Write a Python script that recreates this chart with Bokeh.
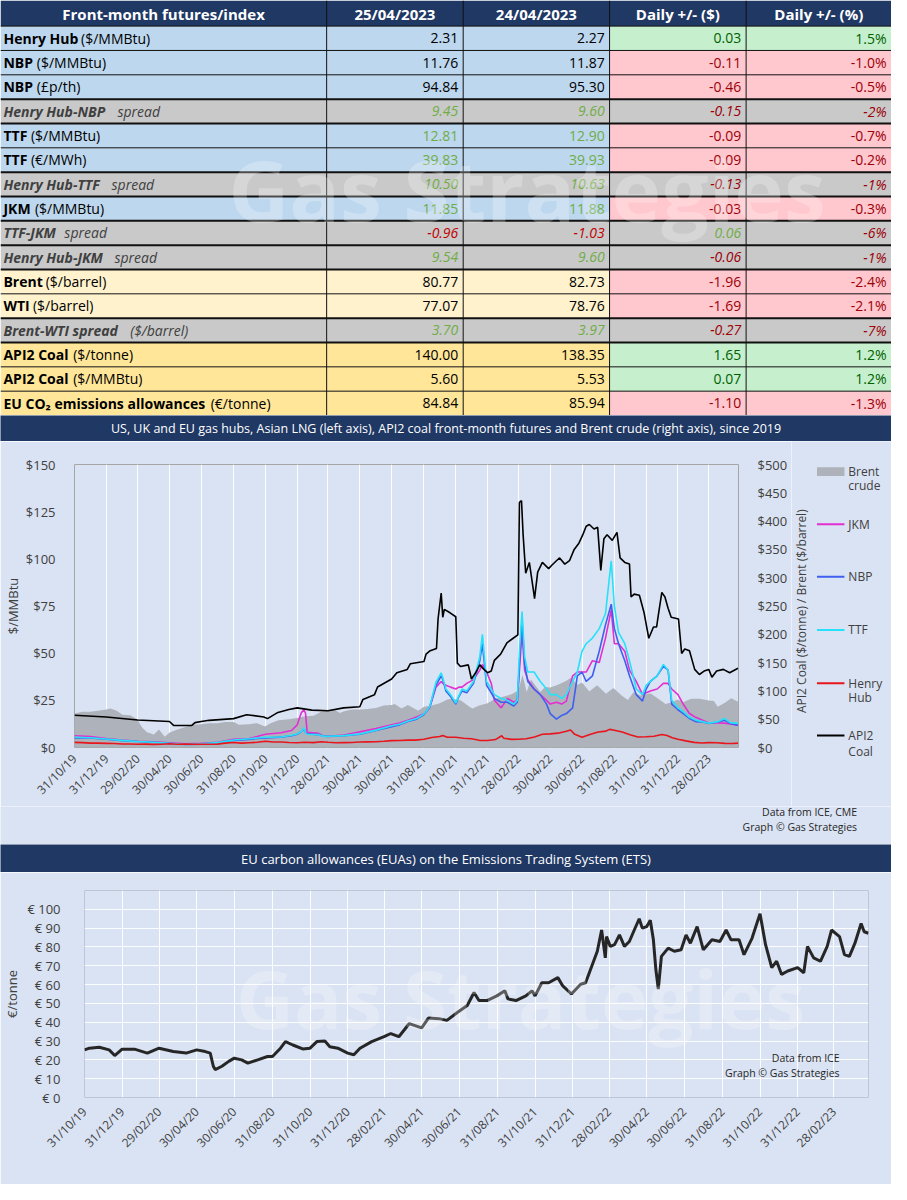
import math
import pandas as pd
from bokeh.plotting import figure
from bokeh.layouts import column, row
from bokeh.models import (ColumnDataSource, Range1d, LinearAxis, FixedTicker,
                          DatetimeTickFormatter, Label)
from bokeh.core.properties import value
from bokeh.embed import file_html
from bokeh.resources import INLINE

# ------------------------------------------------------------------ table data
headers = ["Front-month futures/index", "25/04/2023", "24/04/2023", "Daily +/- ($)", "Daily +/- (%)"]
row_bold = ["Henry Hub", "NBP", "NBP", "Henry Hub-NBP", "TTF", "TTF", "Henry Hub-TTF", "JKM",
            "TTF-JKM", "Henry Hub-JKM", "Brent", "WTI", "Brent-WTI spread", "API2 Coal",
            "API2 Coal", "EU CO\u2082 emissions allowances"]
row_rest = ["($/MMBtu)", "($/MMBtu)", "(£p/th)", "spread", "($/MMBtu)", "(€/MWh)", "spread",
            "($/MMBtu)", "spread", "spread", "($/barrel)", "($/barrel)", "($/barrel)",
            "($/tonne)", "($/MMBtu)", "(€/tonne)"]
row_group = ["US gas", "UK gas", "UK gas", "spread", "EU gas", "EU gas", "spread", "Asian LNG",
             "spread", "spread", "oil", "oil", "spread", "coal", "coal", "carbon"]
price_2504 = [2.31, 11.76, 94.84, 9.45, 12.81, 39.83, 10.50, 11.85, -0.96, 9.54, 80.77, 77.07, 3.70, 140.00, 5.60, 84.84]
price_2404 = [2.27, 11.87, 95.30, 9.60, 12.90, 39.93, 10.63, 11.88, -1.03, 9.60, 82.73, 78.76, 3.97, 138.35, 5.53, 85.94]
daily_abs = [0.03, -0.11, -0.46, -0.15, -0.09, -0.09, -0.13, -0.03, 0.06, -0.06, -1.96, -1.69, -0.27, 1.65, 0.07, -1.10]
daily_pct = [1.5, -1.0, -0.5, -2, -0.7, -0.2, -1, -0.3, -6, -1, -2.4, -2.1, -7, 1.2, 1.2, -1.3]

# ------------------------------------------------------------------ chart 1 data
tick_labels = ["31/10/19", "31/12/19", "29/02/20", "30/04/20", "30/06/20", "31/08/20", "31/10/20",
               "31/12/20", "28/02/21", "30/04/21", "30/06/21", "31/08/21", "31/10/21", "31/12/21",
               "28/02/22", "30/04/22", "30/06/22", "31/08/22", "31/10/22", "31/12/22", "28/02/23"]

gas_dates = ["2019-10-31", "2019-11-30", "2019-12-31", "2020-01-31", "2020-02-29", "2020-03-31", "2020-04-30", "2020-05-31", "2020-06-30", "2020-07-31",
             "2020-08-31", "2020-09-30", "2020-10-15", "2020-10-31", "2020-11-30", "2020-12-20", "2020-12-31", "2021-01-08", "2021-01-13", "2021-01-16",
             "2021-01-19", "2021-02-10", "2021-02-20", "2021-02-28", "2021-03-31", "2021-04-30", "2021-05-31", "2021-06-30", "2021-07-15", "2021-07-31",
             "2021-08-17", "2021-08-31", "2021-09-11", "2021-09-23", "2021-10-03", "2021-10-06", "2021-10-12", "2021-10-21", "2021-10-31", "2021-11-06",
             "2021-11-12", "2021-11-21", "2021-12-04", "2021-12-16", "2021-12-21", "2021-12-29", "2022-01-07", "2022-01-13", "2022-01-26", "2022-02-07",
             "2022-02-19", "2022-02-26", "2022-03-02", "2022-03-07", "2022-03-12", "2022-03-18", "2022-03-30", "2022-04-11", "2022-04-23", "2022-04-30",
             "2022-05-12", "2022-05-22", "2022-05-31", "2022-06-12", "2022-06-21", "2022-06-30", "2022-07-08", "2022-07-20", "2022-08-02", "2022-08-14",
             "2022-08-25", "2022-08-31", "2022-09-08", "2022-09-20", "2022-09-29", "2022-10-12", "2022-10-24", "2022-10-31", "2022-11-08", "2022-11-21",
             "2022-12-03", "2022-12-12", "2022-12-19", "2022-12-31", "2023-01-10", "2023-01-22", "2023-02-03", "2023-02-16", "2023-02-28", "2023-03-18",
             "2023-03-30", "2023-04-10", "2023-04-25"]
jkm = [6.2, 5.8, 4.8, 4.0, 3.3, 3.0, 2.5, 2.0, 2.2, 2.8,
       4.4, 4.8, 5.8, 7.0, 7.8, 9.0, 12.0, 18.5, 20.0, 18.0,
       8.0, 7.5, 6.0, 6.0, 6.6, 8.3, 10.0, 12.0, 13.0, 14.5,
       16.2, 17.9, 21.0, 32.0, 35.0, 34.0, 33.0, 32.0, 31.0, 32.0,
       32.0, 34.0, 36.0, 41.0, 44.0, 40.0, 34.0, 25.0, 21.0, 26.0,
       24.0, 25.0, 41.0, 61.0, 41.0, 36.0, 31.0, 28.0, 25.0, 23.0,
       24.0, 23.0, 24.6, 38.0, 40.0, 40.0, 40.0, 46.0, 45.0, 58.0,
       73.0, 55.0, 55.0, 51.0, 41.0, 35.0, 28.0, 29.0, 30.0, 31.0,
       34.0, 34.0, 31.0, 28.0, 23.0, 18.0, 16.0, 14.5, 13.0, 13.0,
       12.9, 12.5, 11.85]
nbp = [5.0, 5.0, 4.4, 3.6, 3.2, 2.8, 2.2, 1.6, 1.8, 2.5,
       3.8, 4.3, 4.8, 5.0, 5.5, 6.2, 7.0, 8.5, 10.0, 8.0,
       7.2, 6.8, 6.0, 5.9, 6.3, 7.0, 9.0, 11.0, 12.0, 13.8,
       15.0, 17.5, 21.5, 33.0, 38.0, 36.0, 30.0, 27.0, 23.0, 27.0,
       30.0, 29.0, 34.0, 46.0, 55.0, 33.0, 29.0, 26.0, 24.0, 24.0,
       22.0, 24.0, 45.0, 68.0, 44.0, 35.0, 31.0, 28.0, 23.0, 18.0,
       15.0, 17.0, 18.0, 21.0, 38.0, 40.0, 35.0, 38.0, 51.0, 65.0,
       76.0, 63.0, 55.0, 46.0, 38.0, 28.0, 24.6, 31.0, 35.0, 38.0,
       43.0, 41.0, 23.0, 20.0, 18.0, 15.4, 13.7, 13.5, 12.8, 13.5,
       14.5, 12.8, 11.76]
ttf = [5.4, 5.2, 4.5, 3.8, 3.2, 2.8, 2.2, 1.6, 1.9, 2.6,
       4.0, 4.6, 5.0, 5.4, 5.6, 6.5, 7.2, 8.5, 10.5, 7.8,
       7.0, 6.8, 5.9, 6.0, 6.3, 7.2, 9.2, 11.5, 12.3, 14.0,
       15.4, 17.8, 21.5, 34.6, 39.6, 37.0, 31.0, 28.0, 23.5, 27.5,
       31.0, 30.0, 35.0, 48.0, 60.0, 35.0, 31.0, 28.0, 26.0, 25.0,
       23.0, 25.0, 51.0, 72.0, 48.0, 40.0, 40.0, 35.0, 31.0, 28.0,
       28.0, 26.0, 28.0, 35.0, 40.0, 51.0, 55.0, 58.0, 63.0, 71.0,
       99.0, 75.0, 61.0, 55.0, 46.0, 31.0, 28.0, 33.0, 35.0, 38.0,
       44.0, 41.0, 25.0, 21.0, 19.0, 16.0, 14.5, 13.7, 12.9, 13.7,
       15.4, 13.2, 12.81]

henry_hub = [("2019-10-31", 2.7), ("2019-11-15", 2.6), ("2019-11-30", 2.3), ("2019-12-15", 2.3), ("2019-12-31", 2.2),
             ("2020-01-15", 2.1), ("2020-01-31", 1.85), ("2020-02-15", 1.85), ("2020-02-29", 1.7), ("2020-03-15", 1.8),
             ("2020-03-31", 1.65), ("2020-04-15", 1.75), ("2020-04-30", 1.95), ("2020-05-15", 1.75), ("2020-05-31", 1.85),
             ("2020-06-15", 1.7), ("2020-06-30", 1.75), ("2020-07-15", 1.75), ("2020-07-31", 1.8), ("2020-08-15", 2.3),
             ("2020-08-31", 2.65), ("2020-09-15", 2.3), ("2020-09-30", 2.55), ("2020-10-15", 2.75), ("2020-10-31", 3.35),
             ("2020-11-15", 2.9), ("2020-11-30", 2.9), ("2020-12-15", 2.65), ("2020-12-31", 2.55), ("2021-01-15", 2.75),
             ("2021-01-31", 2.6), ("2021-02-15", 3.05), ("2021-02-28", 2.75), ("2021-03-15", 2.55), ("2021-03-31", 2.6),
             ("2021-04-15", 2.65), ("2021-04-30", 2.9), ("2021-05-15", 3.0), ("2021-05-31", 3.05), ("2021-06-15", 3.3),
             ("2021-06-30", 3.65), ("2021-07-15", 3.7), ("2021-07-31", 3.9), ("2021-08-15", 3.9), ("2021-08-31", 4.4),
             ("2021-09-15", 5.3), ("2021-09-30", 5.85), ("2021-10-06", 6.3), ("2021-10-15", 5.4), ("2021-10-31", 5.4),
             ("2021-11-15", 4.9), ("2021-11-30", 4.6), ("2021-12-15", 3.8), ("2021-12-31", 3.7), ("2022-01-15", 4.2),
             ("2022-01-27", 6.2), ("2022-01-31", 4.9), ("2022-02-15", 4.3), ("2022-02-28", 4.4), ("2022-03-15", 4.6),
             ("2022-03-31", 5.6), ("2022-04-15", 7.0), ("2022-04-30", 7.2), ("2022-05-15", 7.6), ("2022-05-31", 8.6),
             ("2022-06-08", 9.3), ("2022-06-15", 7.2), ("2022-06-30", 5.4), ("2022-07-15", 6.9), ("2022-07-31", 8.2),
             ("2022-08-15", 8.7), ("2022-08-22", 9.6), ("2022-08-31", 9.1), ("2022-09-15", 8.2), ("2022-09-30", 6.8),
             ("2022-10-15", 5.6), ("2022-10-31", 5.7), ("2022-11-15", 6.0), ("2022-11-30", 6.9), ("2022-12-10", 6.4),
             ("2022-12-20", 5.2), ("2022-12-31", 4.4), ("2023-01-15", 3.5), ("2023-01-31", 2.7), ("2023-02-15", 2.4),
             ("2023-02-28", 2.6), ("2023-03-15", 2.5), ("2023-03-31", 2.2), ("2023-04-15", 2.1), ("2023-04-25", 2.31)]

brent_crude = [("2019-10-31", 60), ("2019-11-15", 63), ("2019-11-30", 63), ("2019-12-15", 65), ("2019-12-31", 67),
               ("2020-01-08", 69), ("2020-01-20", 65), ("2020-01-31", 58), ("2020-02-15", 57), ("2020-02-28", 50),
               ("2020-03-09", 35), ("2020-03-18", 27), ("2020-03-31", 23), ("2020-04-10", 32), ("2020-04-21", 19),
               ("2020-04-30", 26), ("2020-05-15", 32), ("2020-05-31", 36), ("2020-06-15", 40), ("2020-06-30", 41),
               ("2020-07-15", 43), ("2020-07-31", 43), ("2020-08-15", 45), ("2020-08-31", 45), ("2020-09-10", 40),
               ("2020-09-30", 41), ("2020-10-15", 43), ("2020-10-30", 37), ("2020-11-10", 43), ("2020-11-25", 48),
               ("2020-12-15", 50), ("2020-12-31", 52), ("2021-01-15", 55), ("2021-01-31", 56), ("2021-02-15", 63),
               ("2021-02-28", 66), ("2021-03-10", 68), ("2021-03-23", 61), ("2021-03-31", 64), ("2021-04-15", 67),
               ("2021-04-30", 67), ("2021-05-15", 68), ("2021-05-31", 70), ("2021-06-15", 74), ("2021-06-30", 75),
               ("2021-07-06", 77), ("2021-07-19", 69), ("2021-07-31", 75), ("2021-08-20", 65), ("2021-08-31", 72),
               ("2021-09-15", 74), ("2021-09-30", 78), ("2021-10-15", 85), ("2021-10-25", 86), ("2021-11-10", 83),
               ("2021-11-26", 72), ("2021-12-02", 69), ("2021-12-15", 74), ("2021-12-31", 78), ("2022-01-15", 86),
               ("2022-01-31", 90), ("2022-02-15", 94), ("2022-02-28", 101), ("2022-03-08", 128), ("2022-03-16", 98),
               ("2022-03-24", 120), ("2022-04-11", 98), ("2022-04-20", 107), ("2022-04-30", 106), ("2022-05-15", 111),
               ("2022-05-31", 118), ("2022-06-08", 123), ("2022-06-22", 111), ("2022-06-30", 115), ("2022-07-14", 99),
               ("2022-07-29", 110), ("2022-08-15", 95), ("2022-08-29", 105), ("2022-09-15", 91), ("2022-09-26", 84),
               ("2022-10-07", 98), ("2022-10-20", 92), ("2022-10-31", 94), ("2022-11-08", 96), ("2022-11-28", 83),
               ("2022-12-07", 77), ("2022-12-20", 80), ("2022-12-30", 85), ("2023-01-10", 80), ("2023-01-25", 86),
               ("2023-02-10", 86), ("2023-02-28", 83), ("2023-03-10", 82), ("2023-03-17", 72), ("2023-03-31", 79),
               ("2023-04-12", 87), ("2023-04-25", 81)]

api2_coal = [("2019-10-31", 57), ("2019-12-31", 54), ("2020-02-29", 48.5), ("2020-04-30", 46), ("2020-05-08", 39),
             ("2020-06-12", 39), ("2020-06-18", 44), ("2020-06-30", 46), ("2020-07-15", 48), ("2020-08-31", 51),
             ("2020-09-25", 58), ("2020-10-28", 54), ("2020-11-04", 51), ("2020-11-24", 62), ("2020-12-15", 67),
             ("2020-12-31", 70), ("2021-01-28", 66), ("2021-02-28", 65), ("2021-03-30", 70), ("2021-04-30", 72),
             ("2021-05-06", 85), ("2021-05-28", 93), ("2021-06-03", 107), ("2021-06-30", 121), ("2021-07-10", 132),
             ("2021-07-30", 138), ("2021-08-05", 148), ("2021-08-31", 152), ("2021-09-04", 165), ("2021-09-12", 171),
             ("2021-09-24", 175), ("2021-09-27", 227), ("2021-10-03", 273), ("2021-10-06", 230), ("2021-10-09", 244),
             ("2021-10-20", 238), ("2021-10-31", 231), ("2021-11-03", 149), ("2021-11-09", 143), ("2021-11-24", 146),
             ("2021-11-30", 121), ("2021-12-08", 132), ("2021-12-16", 146), ("2021-12-24", 138), ("2021-12-31", 132),
             ("2022-01-07", 135), ("2022-01-13", 154), ("2022-01-25", 165), ("2022-02-06", 185), ("2022-02-18", 193),
             ("2022-02-27", 199), ("2022-03-02", 433), ("2022-03-06", 436), ("2022-03-09", 377), ("2022-03-14", 308),
             ("2022-03-21", 327), ("2022-03-28", 283), ("2022-03-31", 263), ("2022-04-06", 310), ("2022-04-15", 327),
             ("2022-04-27", 316), ("2022-05-03", 322), ("2022-05-12", 330), ("2022-05-18", 335), ("2022-05-28", 324),
             ("2022-06-06", 330), ("2022-06-15", 350), ("2022-06-24", 361), ("2022-07-02", 377), ("2022-07-08", 391),
             ("2022-07-14", 394), ("2022-07-23", 386), ("2022-07-30", 389), ("2022-08-05", 313), ("2022-08-11", 369),
             ("2022-08-17", 376), ("2022-08-27", 366), ("2022-09-05", 380), ("2022-09-11", 335), ("2022-09-20", 327),
             ("2022-09-29", 324), ("2022-10-02", 266), ("2022-10-08", 271), ("2022-10-18", 269), ("2022-10-27", 238),
             ("2022-11-05", 193), ("2022-11-14", 213), ("2022-11-20", 213), ("2022-11-23", 232), ("2022-11-30", 274),
             ("2022-12-06", 266), ("2022-12-12", 246), ("2022-12-18", 230), ("2023-01-01", 227), ("2023-01-07", 166),
             ("2023-01-13", 174), ("2023-01-22", 171), ("2023-02-01", 138), ("2023-02-10", 129), ("2023-02-19", 135),
             ("2023-02-28", 138), ("2023-03-06", 124), ("2023-03-15", 135), ("2023-03-28", 138), ("2023-04-09", 132),
             ("2023-04-25", 140)]

# ------------------------------------------------------------------ chart 2 data
eua = [("2019-10-31", 25.3), ("2019-11-08", 26.2), ("2019-11-24", 26.7), ("2019-12-10", 25.3), ("2019-12-19", 22.3),
       ("2019-12-31", 25.7), ("2020-01-20", 25.7), ("2020-02-10", 23.6), ("2020-02-29", 26.2), ("2020-03-23", 24.4),
       ("2020-04-13", 23.6), ("2020-04-30", 25.3), ("2020-05-14", 24.4), ("2020-05-22", 23.6), ("2020-05-27", 16.6),
       ("2020-05-30", 14.8), ("2020-06-10", 16.6), ("2020-06-21", 19.2), ("2020-06-30", 20.9), ("2020-07-12", 20.0),
       ("2020-07-22", 18.3), ("2020-08-07", 20.0), ("2020-08-23", 21.8), ("2020-08-31", 21.8), ("2020-09-13", 26.2),
       ("2020-09-21", 29.7), ("2020-10-03", 27.9), ("2020-10-19", 25.8), ("2020-10-31", 26.2), ("2020-11-11", 29.7),
       ("2020-11-24", 30.0), ("2020-12-02", 27.0), ("2020-12-15", 26.2), ("2020-12-31", 23.6), ("2021-01-10", 22.7),
       ("2021-01-20", 26.2), ("2021-02-08", 29.7), ("2021-02-28", 32.3), ("2021-03-11", 34.0), ("2021-03-24", 32.3),
       ("2021-04-10", 39.3), ("2021-04-30", 37.0), ("2021-05-11", 42.2), ("2021-05-28", 41.9), ("2021-06-10", 41.0),
       ("2021-06-28", 45.4), ("2021-07-13", 48.9), ("2021-07-24", 55.8), ("2021-08-01", 51.5), ("2021-08-14", 51.5),
       ("2021-08-30", 54.0), ("2021-09-12", 56.7), ("2021-09-17", 52.4), ("2021-09-30", 51.5), ("2021-10-16", 54.0),
       ("2021-10-26", 56.7), ("2021-10-31", 54.0), ("2021-11-11", 61.0), ("2021-11-22", 61.0), ("2021-12-07", 63.7),
       ("2021-12-15", 59.3), ("2021-12-29", 55.0), ("2022-01-13", 60.2), ("2022-01-21", 61.0), ("2022-01-29", 68.0),
       ("2022-02-09", 77.7), ("2022-02-16", 89.0), ("2022-02-22", 74.2), ("2022-02-24", 85.5), ("2022-03-02", 80.3),
       ("2022-03-09", 81.2), ("2022-03-17", 86.4), ("2022-03-25", 80.3), ("2022-04-02", 82.9), ("2022-04-10", 89.0),
       ("2022-04-18", 95.0), ("2022-04-23", 90.0), ("2022-04-30", 90.8), ("2022-05-06", 94.2), ("2022-05-11", 83.8),
       ("2022-05-15", 68.0), ("2022-05-19", 57.6), ("2022-05-24", 75.0), ("2022-06-04", 79.4), ("2022-06-14", 77.7),
       ("2022-06-25", 78.5), ("2022-07-03", 86.4), ("2022-07-10", 82.0), ("2022-07-21", 90.8), ("2022-07-31", 78.5),
       ("2022-08-14", 83.8), ("2022-08-27", 82.9), ("2022-09-06", 89.0), ("2022-09-14", 83.8), ("2022-09-27", 83.8),
       ("2022-10-05", 75.9), ("2022-10-18", 84.6), ("2022-10-31", 97.7), ("2022-11-09", 81.2), ("2022-11-19", 69.0),
       ("2022-11-27", 72.4), ("2022-12-05", 65.4), ("2022-12-15", 67.2), ("2022-12-31", 69.0), ("2023-01-10", 66.3),
       ("2023-01-16", 80.3), ("2023-01-26", 74.2), ("2023-02-06", 72.4), ("2023-02-17", 80.3), ("2023-02-24", 89.0),
       ("2023-03-09", 85.5), ("2023-03-17", 75.9), ("2023-03-25", 75.0), ("2023-04-03", 82.0), ("2023-04-13", 92.5),
       ("2023-04-18", 88.1), ("2023-04-25", 87.3)]

title1 = "US, UK and EU gas hubs, Asian LNG (left axis), API2 coal front-month futures and Brent crude (right axis), since 2019"
title2 = "EU carbon allowances (EUAs) on the Emissions Trading System (ETS)"
right_axis_title = "API2 Coal ($/tonne) / Brent ($/barrel)"

# ------------------------------------------------------------------ styling
FONT = "Open Sans"
BG = "#DAE3F3"
NAVY = "#1F3864"
TXT = "#404040"
W = 891
C_BRENT, C_JKM, C_NBP, C_TTF, C_HH, C_COAL = "#AEB2BA", "#E22FD2", "#3F5FF0", "#25E2FA", "#E8151C", "#000000"


def ms(s):
    return int((pd.Timestamp(s) - pd.Timestamp("1970-01-01")) // pd.Timedelta(milliseconds=1))


def blank(width, height, xr, yr, bg):
    f = figure(width=width, height=height, x_range=Range1d(*xr), y_range=Range1d(*yr),
               x_axis_location=None, y_axis_location=None, toolbar_location=None,
               output_backend="svg", min_border=0, outline_line_color=None,
               background_fill_color=bg, border_fill_color=bg, frame_align=False)
    f.grid.visible = False
    return f


def put_text(f, xs, ys, texts, colors, size, style="normal", align="left", angle=0.0):
    if not texts:
        return
    src = ColumnDataSource(dict(x=list(xs), y=list(ys), t=list(texts), c=list(colors)))
    f.text(x="x", y="y", text="t", text_color="c", source=src, text_font=value(FONT),
           text_font_size=value(size), text_font_style=style, text_align=align,
           text_baseline="middle", angle=angle)


# ================================================================== TABLE
T = blank(W, 415, (0, 907), (421, 0), "white")
col_edges = [0, 332, 471, 620, 759, 907]
rest_x = [82, 37, 37, 119, 31, 31, 113, 35, 65, 116, 46, 33, 132, 74, 74, 214]
hdr_h = 26
n = len(row_bold)
rh = (421 - hdr_h) / n
tops = [hdr_h + i * rh for i in range(n)]
mids = [t + rh / 2 for t in tops]
fill_of = {"US gas": "#BDD7EE", "UK gas": "#BDD7EE", "EU gas": "#BDD7EE", "Asian LNG": "#BDD7EE",
           "spread": "#C9C9C9", "oil": "#FFF2CC", "coal": "#FFE699", "carbon": "#FFE699"}
green_groups = {"EU gas", "Asian LNG"}

q = dict(l=[0], r=[907], t=[0], b=[hdr_h], c=[NAVY])
for i in range(n):
    g = row_group[i]
    for c in range(5):
        if c < 3 or g == "spread":
            col = fill_of[g]
        else:
            v = daily_abs[i] if c == 3 else daily_pct[i]
            col = "#C6EFCE" if v > 0 else "#FFC7CE"
        q["l"].append(col_edges[c]); q["r"].append(col_edges[c + 1])
        q["t"].append(tops[i]); q["b"].append(tops[i] + rh); q["c"].append(col)
T.quad(left="l", right="r", top="t", bottom="b", fill_color="c", line_color=None,
       source=ColumnDataSource(q))

# watermark
T.add_layout(Label(x=232, y=192, text="Gas Strategies", text_font=FONT, text_font_size="84px",
                   text_font_style="bold", text_color="white", text_alpha=0.25,
                   text_baseline="middle"))

hdr_x = [(col_edges[c] + col_edges[c + 1]) / 2 for c in range(5)]
put_text(T, hdr_x, [hdr_h / 2 + 0.5] * 5, headers, ["white"] * 5, "15px", "bold", "center")

groups = {}
def add(key, x, y, t, c):
    groups.setdefault(key, ([], [], [], []))
    a = groups[key]
    a[0].append(x); a[1].append(y); a[2].append(t); a[3].append(c)

val_x = [col_edges[2] - 5, col_edges[3] - 5, col_edges[4] - 5, col_edges[5] - 5]
for i in range(n):
    g = row_group[i]
    sp = g == "spread"
    y = mids[i]
    add(("bold italic" if sp else "bold", "left"), 3, y, row_bold[i], TXT if sp else "#000000")
    add(("italic" if sp else "normal", "left"), rest_x[i], y, row_rest[i], TXT if sp else "#000000")
    for k, v in enumerate((price_2504[i], price_2404[i])):
        if sp:
            colr = "#70AD47" if v > 0 else "#C00000"
        elif g in green_groups:
            colr = "#70AD47"
        else:
            colr = "#000000"
        add(("italic" if sp else "normal", "right"), val_x[k], y, f"{v:.2f}", colr)
    a, pc = daily_abs[i], daily_pct[i]
    if sp:
        add(("italic", "right"), val_x[2], y, f"{a:.2f}", "#70AD47" if a > 0 else "#9C0006")
        add(("italic", "right"), val_x[3], y, f"{pc:.0f}%", "#70AD47" if pc > 0 else "#9C0006")
    else:
        add(("normal", "right"), val_x[2], y, f"{a:.2f}", "#006100" if a > 0 else "#9C0006")
        add(("normal", "right"), val_x[3], y, f"{pc:.1f}%", "#006100" if pc > 0 else "#9C0006")
for (style, align), (xs, ys, ts, cs) in groups.items():
    put_text(T, xs, ys, ts, cs, "14px", style, align)

spread_idx = [i for i, g in enumerate(row_group) if g == "spread"]
hy = [hdr_h + k * rh for k in range(n + 1)]
lw = [2 if (k in spread_idx or (k - 1) in spread_idx) else 1 for k in range(n + 1)]
T.segment(x0=[0] * (n + 1), x1=[907] * (n + 1), y0=hy, y1=hy, line_color="#111111", line_width=lw)
vx = col_edges[1:-1]
T.segment(x0=vx, x1=vx, y0=[0] * len(vx), y1=[421] * len(vx), line_color="#111111", line_width=1)

# ================================================================== TITLE BARS
TB1 = blank(W, 26, (0, 907), (0, 1), NAVY)
put_text(TB1, [453.5], [0.5], [title1], ["white"], "12.5px", "normal", "center")
TB2 = blank(W, 28, (0, 907), (0, 1), NAVY)
put_text(TB2, [453.5], [0.5], [title2], ["white"], "13px", "normal", "center")

# ================================================================== CHART 1
tick_ms = [ms(pd.to_datetime(t, format="%d/%m/%y")) for t in tick_labels]
FMT = "%d/%m/%y"


def date_fmt():
    return DatetimeTickFormatter(milliseconds=FMT, seconds=FMT, minsec=FMT, minutes=FMT,
                                 hourmin=FMT, hours=FMT, days=FMT, months=FMT, years=FMT)


def style_axis(ax, size="13px"):
    ax.axis_line_color = None
    ax.major_tick_line_color = None
    ax.minor_tick_line_color = None
    ax.major_label_text_font = FONT
    ax.major_label_text_font_size = size
    ax.major_label_text_color = TXT
    ax.axis_label_text_font = FONT
    ax.axis_label_text_font_style = "normal"
    ax.axis_label_text_font_size = "13px"
    ax.axis_label_text_color = TXT


x_lo, x_hi = ms("2019-10-31"), ms("2023-04-26")
P1W = 791
p1 = figure(width=P1W, height=365, x_axis_type="datetime",
            x_range=Range1d(x_lo, x_hi), y_range=Range1d(0, 150),
            toolbar_location=None, output_backend="svg", frame_align=False,
            min_border_left=64, min_border_right=53, min_border_top=23, min_border_bottom=49,
            background_fill_color=BG, border_fill_color=BG, outline_line_color="#A6A6A6")
p1.extra_y_ranges = {"right": Range1d(0, 500)}

bd, bv = zip(*brent_crude)
p1.varea(x=pd.to_datetime(list(bd)), y1=[0] * len(bv), y2=list(bv), y_range_name="right",
         fill_color=C_BRENT)
gd = pd.to_datetime(gas_dates)
p1.line(gd, jkm, line_color=C_JKM, line_width=1.6)
p1.line(gd, nbp, line_color=C_NBP, line_width=1.6)
p1.line(gd, ttf, line_color=C_TTF, line_width=1.6)
hd, hv = zip(*henry_hub)
p1.line(pd.to_datetime(list(hd)), list(hv), line_color=C_HH, line_width=1.6)
cd, cv = zip(*api2_coal)
p1.line(pd.to_datetime(list(cd)), list(cv), line_color=C_COAL, line_width=1.6, y_range_name="right")

p1.xaxis.ticker = FixedTicker(ticks=tick_ms)
p1.xaxis.formatter = date_fmt()
p1.xaxis.major_label_orientation = math.pi / 4
p1.xgrid.ticker = FixedTicker(ticks=tick_ms)
p1.xgrid.grid_line_color = "white"
p1.xgrid.grid_line_alpha = 0.9
p1.ygrid.visible = False
style_axis(p1.xaxis[0], "12px")
p1.xaxis.major_label_standoff = 3

left_ticks = [0, 25, 50, 75, 100, 125, 150]
p1.yaxis.ticker = FixedTicker(ticks=left_ticks)
p1.yaxis.major_label_overrides = {t: f"${t}" for t in left_ticks}
p1.yaxis.axis_label = "$/MMBtu"
style_axis(p1.yaxis[0])
p1.yaxis.major_label_standoff = 13
p1.yaxis.axis_label_standoff = 1

right_ticks = list(range(0, 501, 50))
ra = LinearAxis(y_range_name="right", ticker=FixedTicker(ticks=right_ticks),
                major_label_overrides={t: f"${t}" for t in right_ticks})
style_axis(ra)
ra.major_label_standoff = 13
p1.add_layout(ra, "right")

# side panel: right-axis title + legend
LG = blank(W - P1W, 365, (805, 907), (817, 447), BG)
put_text(LG, [815.5], [619], [right_axis_title], [TXT], "12px", "normal", "center", angle=math.pi / 2)
LG.quad(left=[831], right=[859], top=[473], bottom=[482], fill_color=C_BRENT, line_color=None)
leg_y = [531, 584, 638, 692, 745]
LG.segment(x0=[831] * 5, x1=[859] * 5, y0=leg_y, y1=leg_y,
           line_color=[C_JKM, C_NBP, C_TTF, C_HH, C_COAL], line_width=2)
leg_lines = ["Brent", "crude", "JKM", "NBP", "TTF", "Henry", "Hub", "API2", "Coal"]
leg_ly = [477, 492, 531, 584, 638, 692, 707, 745, 761]
put_text(LG, [863] * len(leg_lines), leg_ly, leg_lines, [TXT] * len(leg_lines), "12px")

# footnote panel
F1 = blank(W, 38, (0, 907), (856, 817), BG)
put_text(F1, [872, 872], [822.5, 838.5], ["Data from ICE, CME", "Graph \u00a9 Gas Strategies"],
         ["#262626", "#262626"], "10.5px", "normal", "right")

# ================================================================== CHART 2
p2 = figure(width=W, height=312, x_axis_type="datetime",
            x_range=Range1d(x_lo, ms("2023-04-25")), y_range=Range1d(0, 110),
            toolbar_location=None, output_backend="svg", frame_align=False,
            min_border_left=74, min_border_right=23, min_border_top=18, min_border_bottom=87,
            background_fill_color=BG, border_fill_color=BG, outline_line_color="#BCC6D6")
p2.add_layout(Label(x=ms("2020-07-03"), y=53, text="Gas Strategies", text_font=FONT,
                    text_font_size="80px", text_font_style="bold", text_color="white",
                    text_alpha=0.25, text_baseline="middle"))
ed, ev = zip(*eua)
p2.line(pd.to_datetime(list(ed)), list(ev), line_color="#262626", line_width=3)

p2.xaxis.ticker = FixedTicker(ticks=tick_ms)
p2.xaxis.formatter = date_fmt()
p2.xaxis.major_label_orientation = math.pi / 4
p2.xgrid.ticker = FixedTicker(ticks=tick_ms)
p2.xgrid.grid_line_color = "white"
p2.xgrid.grid_line_alpha = 0.9
style_axis(p2.xaxis[0], "12px")
p2.xaxis.major_label_standoff = 6

eu_ticks = list(range(0, 101, 10))
p2.yaxis.ticker = FixedTicker(ticks=eu_ticks)
p2.ygrid.ticker = FixedTicker(ticks=eu_ticks)
p2.ygrid.grid_line_color = "white"
p2.ygrid.grid_line_alpha = 0.9
p2.yaxis.major_label_overrides = {t: f"\u20ac {t}" for t in eu_ticks}
p2.yaxis.axis_label = "\u20ac/tonne"
style_axis(p2.yaxis[0])
p2.yaxis.major_label_standoff = 18
p2.yaxis.axis_label_standoff = 3

p2.add_layout(Label(x=ms("2023-03-09"), y=21, text="Data from ICE", text_font=FONT,
                    text_font_size="10.5px", text_color="#262626", text_align="right",
                    text_baseline="middle"))
p2.add_layout(Label(x=ms("2023-03-09"), y=13.2, text="Graph \u00a9 Gas Strategies", text_font=FONT,
                    text_font_size="10.5px", text_color="#262626", text_align="right",
                    text_baseline="middle"))

layout = column(T, TB1, row(p1, LG), F1, TB2, p2)
open("out.html", "w").write(file_html(layout, INLINE))
